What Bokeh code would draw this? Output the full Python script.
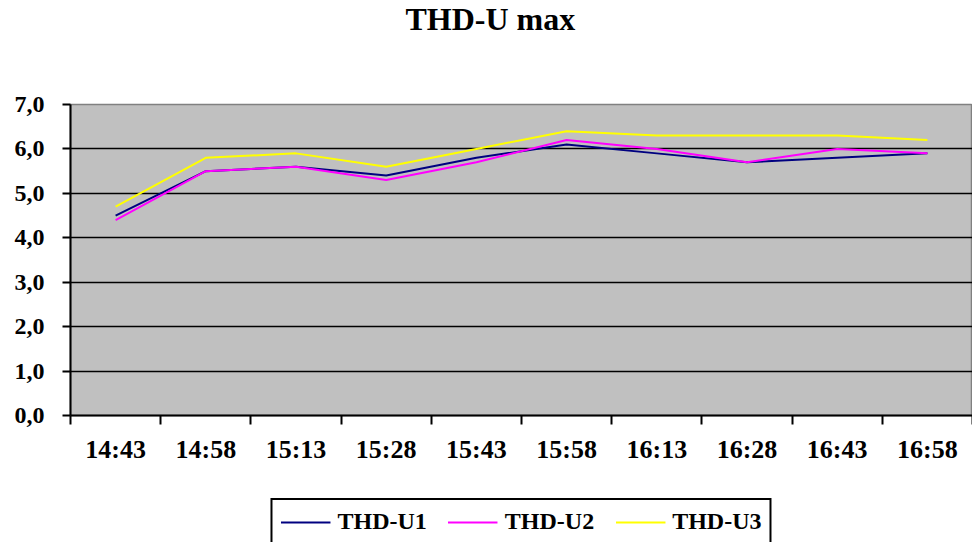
from bokeh.plotting import figure
from bokeh.layouts import column
from bokeh.models import Range1d, FixedTicker, Legend, LegendItem, Title
from bokeh.embed import file_html
from bokeh.resources import INLINE

# ---- data ----
times = ["14:43", "14:58", "15:13", "15:28", "15:43", "15:58", "16:13", "16:28", "16:43", "16:58"]
thd_u1 = [4.5, 5.5, 5.6, 5.4, 5.8, 6.1, 5.9, 5.7, 5.8, 5.9]
thd_u2 = [4.4, 5.5, 5.6, 5.3, 5.7, 6.2, 6.0, 5.7, 6.0, 5.9]
thd_u3 = [4.7, 5.8, 5.9, 5.6, 6.0, 6.4, 6.3, 6.3, 6.3, 6.2]
series_names = ["THD-U1", "THD-U2", "THD-U3"]
series_colors = ["#000080", "#FF00FF", "#FFFF00"]
y_ticks = [0, 1, 2, 3, 4, 5, 6, 7]
y_labels = ["0,0", "1,0", "2,0", "3,0", "4,0", "5,0", "6,0", "7,0"]
title_text = "THD-U max"

FONT = "Liberation Serif"

xs = [i + 0.5 for i in range(len(times))]
series = [thd_u1, thd_u2, thd_u3]

p = figure(width=972, height=480, output_backend="svg", toolbar_location=None,
           x_range=Range1d(0, 10), y_range=Range1d(0, 7),
           min_border_left=70, min_border_right=0, min_border_top=103, min_border_bottom=65,
           title=None)

# spacer between the frame and the title (closest to the frame), then the title
spacer = Title(text=" ", text_font_size="10px", standoff=53, text_color="white")
p.add_layout(spacer, "above")
main_title = Title(text=title_text, align="left", offset=335, vertical_align="top", standoff=0,
                   text_font=FONT, text_font_style="bold", text_font_size="32px", text_color="black")
p.add_layout(main_title, "above")

p.background_fill_color = "#C0C0C0"
p.border_fill_color = "white"
p.outline_line_color = "#808080"
p.outline_line_width = 1.5

# grid
p.xgrid.visible = False
p.ygrid.ticker = FixedTicker(ticks=y_ticks)
p.ygrid.grid_line_color = "black"
p.ygrid.grid_line_width = 1.6

# y axis
p.yaxis.ticker = FixedTicker(ticks=y_ticks)
p.yaxis.major_label_overrides = {t: l for t, l in zip(y_ticks, y_labels)}
p.yaxis.axis_line_color = "black"
p.yaxis.axis_line_width = 2
p.yaxis.major_tick_line_color = "black"
p.yaxis.major_tick_line_width = 2
p.yaxis.major_tick_out = 8
p.yaxis.major_tick_in = 0
p.yaxis.minor_tick_line_color = None
p.yaxis.major_label_standoff = 18
p.yaxis.major_label_text_font = FONT
p.yaxis.major_label_text_font_style = "bold"
p.yaxis.major_label_text_font_size = "24px"
p.yaxis.major_label_text_color = "black"

# x axis: labels at category centres, tick marks at category boundaries
p.xaxis.ticker = FixedTicker(ticks=xs, minor_ticks=list(range(len(times) + 1)))
p.xaxis.major_label_overrides = {x: t for x, t in zip(xs, times)}
p.xaxis.axis_line_color = "black"
p.xaxis.axis_line_width = 2
p.xaxis.major_tick_line_color = None
p.xaxis.minor_tick_line_color = "black"
p.xaxis.minor_tick_line_width = 2
p.xaxis.minor_tick_out = 9
p.xaxis.minor_tick_in = 0
p.xaxis.major_label_standoff = 10
p.xaxis.major_label_text_font = FONT
p.xaxis.major_label_text_font_style = "bold"
p.xaxis.major_label_text_font_size = "26px"
p.xaxis.major_label_text_color = "black"

for ys, c in zip(series, series_colors):
    p.line(xs, ys, line_color=c, line_width=2)

# legend strip below the chart (its renderers lie outside this strip's visible range)
p2 = figure(width=972, height=62, output_backend="svg", toolbar_location=None,
            x_range=Range1d(0, 1), y_range=Range1d(0, 1),
            x_axis_location=None, y_axis_location=None,
            min_border_left=70, min_border_right=0, min_border_top=0, min_border_bottom=0)
p2.xgrid.visible = False
p2.ygrid.visible = False
p2.outline_line_color = None
p2.background_fill_color = "white"
p2.border_fill_color = "white"

items = []
for name, ys, c in zip(series_names, series, series_colors):
    r = p2.line(xs, ys, line_color=c, line_width=2)
    items.append(LegendItem(label=name, renderers=[r]))

legend = Legend(items=items, orientation="horizontal", location="top_center")
legend.label_text_font = FONT
legend.label_text_font_style = "bold"
legend.label_text_font_size = "24px"
legend.label_text_color = "black"
legend.glyph_width = 50
legend.glyph_height = 20
legend.label_standoff = 7
legend.spacing = 21
legend.padding = 8
legend.margin = 18
legend.border_line_color = "black"
legend.border_line_width = 2
legend.border_line_alpha = 1
legend.background_fill_color = "white"
legend.background_fill_alpha = 1
p2.add_layout(legend, "center")

layout = column(p, p2, spacing=0)
open("out.html", "w").write(file_html(layout, INLINE))
